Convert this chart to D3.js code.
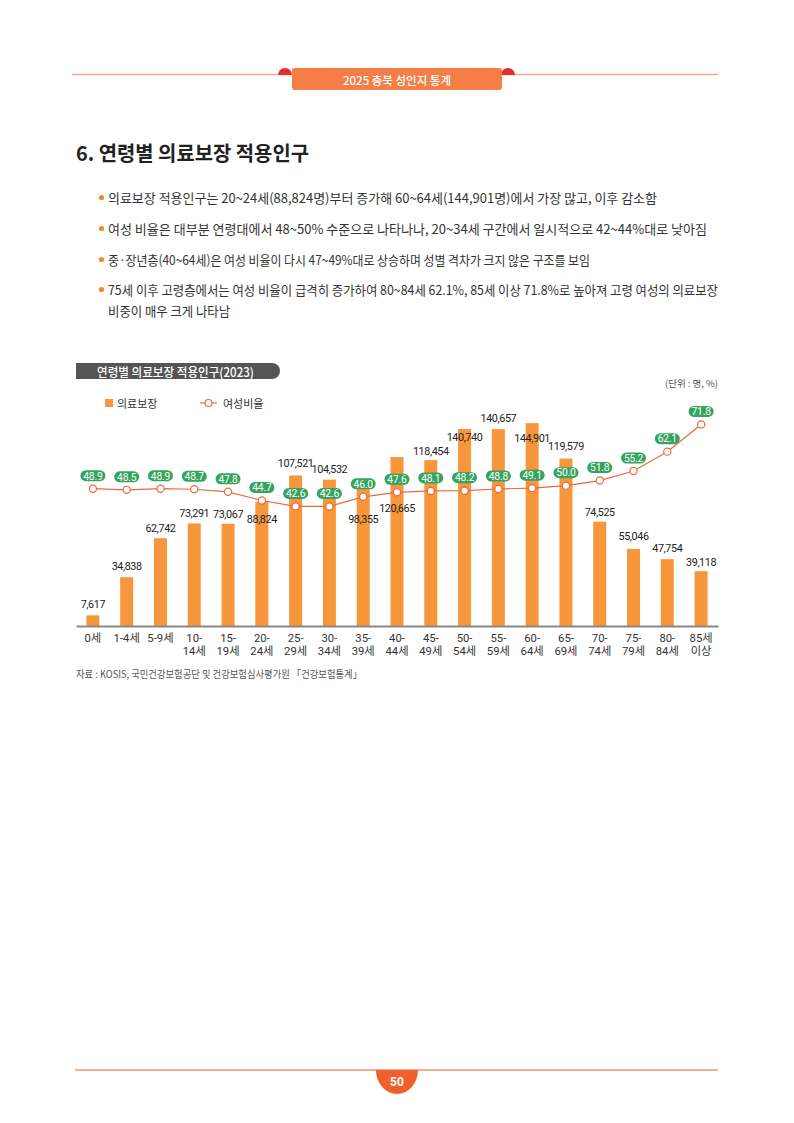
<!DOCTYPE html>
<html><head><meta charset="utf-8">
<script src="https://cdn.jsdelivr.net/npm/d3@7/dist/d3.min.js"></script>
<style>
html,body{margin:0;padding:0;background:#fff;}
svg{display:block;}
</style></head>
<body>
<svg id="page" width="794" height="1123"></svg>
<script>
// ---------- data ----------
const ages = ["0세","1-4세","5-9세","10-14세","15-19세","20-24세","25-29세","30-34세","35-39세","40-44세","45-49세","50-54세","55-59세","60-64세","65-69세","70-74세","75-79세","80-84세","85세 이상"];
const coverage = [7617,34838,62742,73291,73067,88824,107521,104532,98355,120665,118454,140740,140657,144901,119579,74525,55046,47754,39118];
const femaleRatio = [48.9,48.5,48.9,48.7,47.8,44.7,42.6,42.6,46.0,47.6,48.1,48.2,48.8,49.1,50.0,51.8,55.2,62.1,71.8];
const tickLabels = [["0세"],["1-4세"],["5-9세"],["10-","14세"],["15-","19세"],["20-","24세"],["25-","29세"],["30-","34세"],["35-","39세"],["40-","44세"],["45-","49세"],["50-","54세"],["55-","59세"],["60-","64세"],["65-","69세"],["70-","74세"],["75-","79세"],["80-","84세"],["85세","이상"]];
const seriesNames = ["의료보장","여성비율"];
const bullets = [
  "의료보장 적용인구는 20~24세(88,824명)부터 증가해 60~64세(144,901명)에서 가장 많고, 이후 감소함",
  "여성 비율은 대부분 연령대에서 48~50% 수준으로 나타나나, 20~34세 구간에서 일시적으로 42~44%대로 낮아짐",
  "중·장년층(40~64세)은 여성 비율이 다시 47~49%대로 상승하며 성별 격차가 크지 않은 구조를 보임",
  "75세 이후 고령층에서는 여성 비율이 급격히 증가하여 80~84세 62.1%, 85세 이상 71.8%로 높아져 고령 여성의 의료보장"
];
const bulletCont = "비중이 매우 크게 나타남";

// ---------- layout (label placement relative to bar top) ----------
const barLabelDy = [-11,-11,-10,-9.5,-9.5,18,-12,-10,31,51,-9,9,-11,15,-12,-9,-12,-11,-9];

const KR = "'Noto Sans CJK KR','Noto Sans',sans-serif";
const NUM = "Roboto,'Noto Sans CJK KR',sans-serif";
const ORANGE = "#f7963b", LINE = "#ea6a3f", GREEN = "#35a45e";

const svg = d3.select("#page");

// ---------- header ----------
svg.append("line").attr("x1",72).attr("x2",718).attr("y1",74.5).attr("y2",74.5)
  .attr("stroke","#f3a98c").attr("stroke-width",1.5);
[285,508].forEach(cx=>{
  svg.append("path").attr("d",`M${cx-7},75 A7,7 0 0 1 ${cx+7},75 Z`).attr("fill","#e62e2d");
});
svg.append("rect").attr("x",292).attr("y",68).attr("width",210).attr("height",22).attr("rx",3)
  .attr("fill","#f47e45");
svg.append("text").attr("x",397).attr("y",79.5).attr("text-anchor","middle")
  .attr("dominant-baseline","central").attr("fill","#fff").attr("font-family",KR)
  .attr("font-size",11.5).attr("font-weight",500).text("2025 충북 성인지 통계");

// ---------- title ----------
svg.append("text").attr("x",76).attr("y",161).attr("font-family",KR).attr("font-weight",700)
  .attr("font-size",20.5).attr("fill","#222").attr("textLength",233).attr("lengthAdjust","spacingAndGlyphs")
  .text("6. 연령별 의료보장 적용인구");

// ---------- bullets ----------
const bulletY = [197,228,259,289];
const bulletW = [549,599,482,610];
let lastScale = 1;
bullets.forEach((t,i)=>{
  svg.append("circle").attr("cx",101.5).attr("cy",bulletY[i]+0.5).attr("r",2.6).attr("fill","#f08a2c");
  const el = svg.append("text").attr("x",108).attr("y",bulletY[i]).attr("dominant-baseline","central")
    .attr("font-family",KR).attr("font-size",13).attr("fill","#333").text(t);
  const nat = el.node().getComputedTextLength();
  lastScale = bulletW[i]/nat;
  el.attr("textLength",bulletW[i]).attr("lengthAdjust","spacingAndGlyphs");
});
const cont = svg.append("text").attr("x",108).attr("y",310).attr("dominant-baseline","central")
  .attr("font-family",KR).attr("font-size",13).attr("fill","#333").text(bulletCont);
cont.attr("textLength",cont.node().getComputedTextLength()*lastScale).attr("lengthAdjust","spacingAndGlyphs");

// ---------- chart heading ----------
svg.append("path").attr("d","M76,363 H272 A8,8 0 0 1 272,379 H76 Z").attr("fill","#555");
svg.append("text").attr("x",97).attr("y",371).attr("dominant-baseline","central")
  .attr("font-family",KR).attr("font-weight",500).attr("font-size",12.5).attr("fill","#fff")
  .attr("textLength",157).attr("lengthAdjust","spacingAndGlyphs").text("연령별 의료보장 적용인구(2023)");
svg.append("text").attr("x",718).attr("y",383).attr("text-anchor","end").attr("dominant-baseline","central")
  .attr("font-family",KR).attr("font-size",9.5).attr("fill","#555").text("(단위 : 명, %)");

// legend
svg.append("rect").attr("x",105).attr("y",399).attr("width",8).attr("height",8).attr("fill",ORANGE);
svg.append("text").attr("x",117).attr("y",403).attr("dominant-baseline","central")
  .attr("font-family",KR).attr("font-size",11).attr("fill","#333").text(seriesNames[0]);
svg.append("line").attr("x1",200).attr("x2",217).attr("y1",403).attr("y2",403).attr("stroke",LINE).attr("stroke-width",1.2);
svg.append("circle").attr("cx",208.5).attr("cy",403).attr("r",3.5).attr("fill","#fff").attr("stroke",LINE).attr("stroke-width",1.2);
svg.append("text").attr("x",223).attr("y",403).attr("dominant-baseline","central")
  .attr("font-family",KR).attr("font-size",11).attr("fill","#333").text(seriesNames[1]);

// ---------- scales ----------
const x = d3.scaleBand().domain(ages).range([76,718]).paddingInner(0).paddingOuter(0);
const y = d3.scaleLinear().domain([0,160000]).range([626,402]);
const y2 = d3.scaleLinear().domain([0,80]).range([626,401.4]);
const bw = 13;
const cx = d => x(d) + x.bandwidth()/2;

const chart = svg.append("g");

// bars
chart.selectAll("rect.bar").data(ages).join("rect").attr("class","bar")
  .attr("x",d=>cx(d)-bw/2).attr("width",bw)
  .attr("y",(d,i)=>y(coverage[i])).attr("height",(d,i)=>y(0)-y(coverage[i]))
  .attr("fill",ORANGE);

// axis
const axis = chart.append("g").attr("transform",`translate(0,${y(0)})`)
  .call(d3.axisBottom(x).tickSize(0).tickSizeOuter(0).tickFormat(""));
axis.select(".domain").attr("stroke","#888").attr("stroke-width",2);
ages.forEach((a,i)=>{
  const t = chart.append("text").attr("text-anchor","middle").attr("font-family",NUM)
    .attr("font-size",11.3).attr("fill","#333");
  tickLabels[i].forEach((s,j)=>{
    t.append("tspan").attr("x",cx(a)).attr("y",642+j*12.5).text(s);
  });
});

// bar value labels
chart.selectAll("text.val").data(ages).join("text").attr("class","val")
  .attr("x",d=>cx(d)).attr("y",(d,i)=>y(coverage[i])+barLabelDy[i])
  .attr("text-anchor","middle").attr("dominant-baseline","central")
  .attr("font-family",NUM).attr("font-size",10.8).attr("letter-spacing",-0.4).attr("fill","#222")
  .text((d,i)=>d3.format(",")(coverage[i]));

// line
const line = d3.line().x((d,i)=>cx(ages[i])).y(d=>y2(d));
chart.append("path").datum(femaleRatio).attr("d",line).attr("fill","none")
  .attr("stroke",LINE).attr("stroke-width",1.2);
chart.selectAll("circle.pt").data(femaleRatio).join("circle").attr("class","pt")
  .attr("cx",(d,i)=>cx(ages[i])).attr("cy",d=>y2(d)).attr("r",3.6)
  .attr("fill","#fff").attr("stroke",LINE).attr("stroke-width",1.2);

// ratio pills
const pills = chart.selectAll("g.pill").data(femaleRatio).join("g").attr("class","pill")
  .attr("transform",(d,i)=>`translate(${cx(ages[i])},${y2(d)-13})`);
pills.append("rect").attr("x",-12.5).attr("y",-5.5).attr("width",25).attr("height",11).attr("rx",5.5)
  .attr("fill",GREEN);
pills.append("text").attr("text-anchor","middle").attr("dominant-baseline","central").attr("y",0.3)
  .attr("font-family",NUM).attr("font-size",10.3).attr("fill","#fff").attr("letter-spacing",-0.2)
  .text(d=>d.toFixed(1));

// source
svg.append("text").attr("x",76).attr("y",673).attr("dominant-baseline","central")
  .attr("font-family",KR).attr("font-size",10).attr("fill","#555")
  .attr("textLength",286).attr("lengthAdjust","spacingAndGlyphs")
  .text("자료 : KOSIS, 국민건강보험공단 및 건강보험심사평가원 「건강보험통계」");

// ---------- footer ----------
svg.append("path").attr("d","M376,1070 A21,24 0 0 0 418,1070 Z").attr("fill","#f0602a");
svg.append("line").attr("x1",75).attr("x2",718).attr("y1",1070).attr("y2",1070)
  .attr("stroke","#e8602f").attr("stroke-width",1);
svg.append("text").attr("x",397).attr("y",1082).attr("text-anchor","middle").attr("dominant-baseline","central")
  .attr("font-family",NUM).attr("font-weight",700).attr("font-size",12).attr("fill","#fff").text("50");
</script>
</body></html>
